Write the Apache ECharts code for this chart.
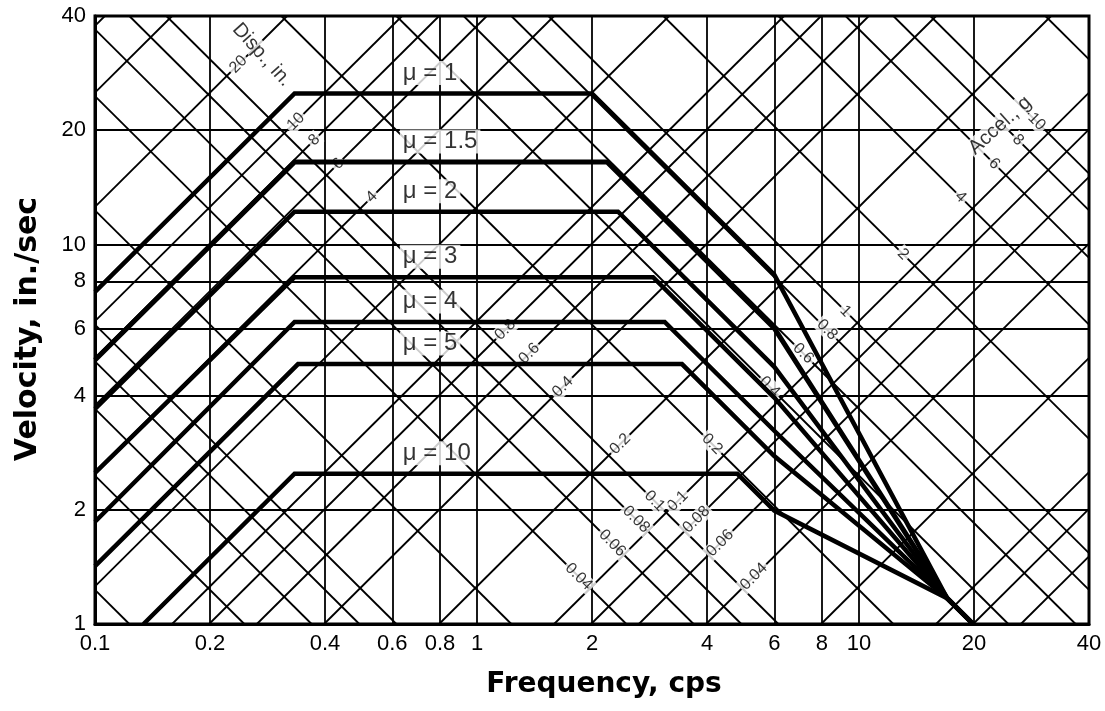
<!DOCTYPE html>
<html>
<head>
<meta charset="utf-8">
<script src="https://cdn.jsdelivr.net/npm/echarts@6/dist/echarts.min.js"></script>
<style>
html,body{margin:0;padding:0;background:#fff;}
#chart{width:1105px;height:711px;}
</style>
</head>
<body>
<div id="chart"></div>
<script>
// ---- tick labels ----
const xTickValues = [0.1, 0.2, 0.4, 0.6, 0.8, 1, 2, 4, 6, 8, 10, 20, 40];
const yTickValues = [1, 2, 4, 6, 8, 10, 20, 40];

// ---- tripartite grid lines (displacement in inches, acceleration in g) ----
const dispLineValues = [0.004, 0.006, 0.008, 0.01, 0.02, 0.04, 0.06, 0.08, 0.1, 0.2, 0.4, 0.6, 0.8, 1, 2, 4, 6, 8, 10, 20, 40, 60];
const accelLineValues = [0.002, 0.004, 0.006, 0.008, 0.01, 0.02, 0.04, 0.06, 0.08, 0.1, 0.2, 0.4, 0.6, 0.8, 1, 2, 4, 6, 8, 10, 20];
const dispLabelValues = [20, 10, 8, 6, 4, 0.8, 0.6, 0.4, 0.2, 0.1, 0.08, 0.06, 0.04];
const accelLabelValues = [10, 8, 6, 4, 2, 1, 0.8, 0.6, 0.4, 0.2, 0.1, 0.08, 0.06, 0.04];

// ---- design spectra: [frequency cps, velocity in./sec] ----
const muNames = ['μ = 1', 'μ = 1.5', 'μ = 2', 'μ = 3', 'μ = 4', 'μ = 5', 'μ = 10'];
const spectrumMu1   = [[0.1, 7.5],  [0.333, 25],   [2.0, 25],   [6, 8.33], [17, 1.17], [19.9, 1]];
const spectrumMu1_5 = [[0.1, 4.96], [0.333, 16.5], [2.19, 16.5], [6, 6.02], [17, 1.17], [19.9, 1]];
const spectrumMu2   = [[0.1, 3.69], [0.333, 12.2], [2.34, 12.2], [6, 4.76], [17, 1.17], [19.9, 1]];
const spectrumMu3   = [[0.1, 2.5],  [0.333, 8.2],  [2.89, 8.2],  [6, 3.95], [17, 1.17], [19.9, 1]];
const spectrumMu4   = [[0.1, 1.86], [0.333, 6.25], [3.1, 6.25],  [6, 3.23], [17, 1.17], [19.9, 1]];
const spectrumMu5   = [[0.1, 1.42], [0.34, 4.84],  [3.44, 4.84], [6, 2.77], [17, 1.17], [19.9, 1]];
const spectrumMu10  = [[0.134, 1],  [0.333, 2.49], [4.8, 2.49],  [6, 1.99], [17, 1.17], [19.9, 1]];
const spectra = [spectrumMu1, spectrumMu1_5, spectrumMu2, spectrumMu3, spectrumMu4, spectrumMu5, spectrumMu10];

// ---- constants of the tripartite construction and label placement ----
const G = 386.4;            // in./sec^2 per g
const X_MIN = 0.1, X_MAX = 40, Y_MIN = 1, Y_MAX = 40;
const DISP_LABEL_ALONG_ACCEL = 0.115;   // displacement numbers sit along this accel line
const ACCEL_LABEL_ALONG_DISP = 0.115;   // accel numbers sit along this disp line
const MU_LABEL_FREQ = 0.63;
const DISP_TITLE_AT = [0.2735, 31.6];
const ACCEL_TITLE_AT = [23.4, 20.6];

const FONT = "'Liberation Sans', 'DejaVu Sans', sans-serif";
const THIN = 1.8;
const series = [];

// displacement lines: V = 2*pi*f*D
dispLineValues.forEach(function (d) {
  const k = 2 * Math.PI * d;
  const f1 = Math.max(X_MIN, Y_MIN / k), f2 = Math.min(X_MAX, Y_MAX / k);
  if (f1 >= f2) return;
  series.push({
    type: 'line', silent: true, z: 2, showSymbol: false, symbol: 'none',
    lineStyle: { color: '#000', width: THIN },
    data: [[f1, k * f1], [f2, k * f2]]
  });
});
// acceleration lines: V = A*g/(2*pi*f)
accelLineValues.forEach(function (a) {
  const c = a * G / (2 * Math.PI);
  const f1 = Math.max(X_MIN, c / Y_MAX), f2 = Math.min(X_MAX, c / Y_MIN);
  if (f1 >= f2) return;
  series.push({
    type: 'line', silent: true, z: 2, showSymbol: false, symbol: 'none',
    lineStyle: { color: '#000', width: THIN },
    data: [[f1, c / f1], [f2, c / f2]]
  });
});

function fmt(v) { return String(+v.toPrecision(3)); }

// displacement numbers
series.push({
  type: 'scatter', z: 4, silent: true, symbolSize: 1,
  itemStyle: { color: 'rgba(0,0,0,0)' },
  data: dispLabelValues.map(function (d) {
    const v = Math.sqrt(DISP_LABEL_ALONG_ACCEL * G * d);
    const f = v / (2 * Math.PI * d);
    return { value: [f, v], name: fmt(d) };
  }),
  label: {
    show: true, position: 'inside', formatter: '{b}', rotate: 45,
    fontFamily: FONT, fontSize: 16, color: '#000',
    backgroundColor: '#fff', padding: [0, 2]
  }
});
// acceleration numbers
series.push({
  type: 'scatter', z: 4, silent: true, symbolSize: 1,
  itemStyle: { color: 'rgba(0,0,0,0)' },
  data: accelLabelValues.map(function (a) {
    const v = Math.sqrt(a * G * ACCEL_LABEL_ALONG_DISP);
    const f = v / (2 * Math.PI * ACCEL_LABEL_ALONG_DISP);
    return { value: [f, v], name: fmt(a) };
  }),
  label: {
    show: true, position: 'inside', formatter: '{b}', rotate: -45,
    fontFamily: FONT, fontSize: 16, color: '#000',
    backgroundColor: '#fff', padding: [0, 2]
  }
});
// family titles
series.push({
  type: 'scatter', z: 4, silent: true, symbolSize: 1,
  itemStyle: { color: 'rgba(0,0,0,0)' },
  data: [
    { value: DISP_TITLE_AT, name: 'Disp., in.', label: { rotate: -48 } },
    { value: ACCEL_TITLE_AT, name: 'Accel., g', label: { rotate: 42 } }
  ],
  label: {
    show: true, position: 'inside', formatter: '{b}',
    fontFamily: FONT, fontSize: 20, color: '#000',
    backgroundColor: '#fff', padding: [0, 2]
  }
});

// spectra
spectra.forEach(function (s, i) {
  series.push({
    type: 'line', name: muNames[i], z: 5, silent: true, showSymbol: false, symbol: 'none',
    lineStyle: { color: '#000', width: i === 1 ? 5 : 4.5, join: 'miter' },
    data: s
  });
});
// mu labels
series.push({
  type: 'scatter', z: 6, silent: true, symbolSize: 1,
  itemStyle: { color: 'rgba(0,0,0,0)' },
  data: spectra.map(function (s, i) {
    return { value: [MU_LABEL_FREQ, s[2][1]], name: muNames[i] };
  }),
  label: {
    show: true, position: [0, 0], align: 'left', verticalAlign: 'middle',
    offset: [0, -20], formatter: '{b}',
    fontFamily: FONT, fontSize: 24, color: '#000',
    backgroundColor: '#fff', padding: [0, 3]
  }
});

const chart = echarts.init(document.getElementById('chart'), null, { renderer: 'canvas' });
chart.setOption({
  animation: false,
  backgroundColor: '#fff',
  grid: { left: 95, top: 16, width: 994, height: 608, show: true, borderColor: '#000', borderWidth: 3, backgroundColor: 'transparent' },
  xAxis: {
    type: 'log', logBase: 10, min: X_MIN, max: X_MAX,
    name: 'Frequency, cps', nameLocation: 'middle', nameGap: 47,
    nameTextStyle: { fontFamily: "'DejaVu Sans', sans-serif", fontWeight: 'bold', fontSize: 28, color: '#000', padding: [0, 0, 0, 24] },
    axisLine: { show: true, lineStyle: { color: '#000', width: 3 } },
    axisTick: { show: false, customValues: xTickValues },
    axisLabel: { customValues: xTickValues, formatter: function (v) { return fmt(v); }, margin: 9, fontFamily: FONT, fontSize: 22, color: '#000' },
    splitLine: { show: true, lineStyle: { color: '#000', width: THIN } },
    minorSplitLine: { show: false }
  },
  yAxis: {
    type: 'log', logBase: 10, min: Y_MIN, max: Y_MAX,
    name: 'Velocity, in./sec', nameLocation: 'middle', nameGap: 52, nameRotate: 90,
    nameTextStyle: { fontFamily: "'DejaVu Sans', sans-serif", fontWeight: 'bold', fontSize: 30, color: '#000', padding: [0, 18, 0, 0] },
    axisLine: { show: true, lineStyle: { color: '#000', width: 3 } },
    axisTick: { show: false, customValues: yTickValues },
    axisLabel: { customValues: yTickValues, formatter: function (v) { return fmt(v); }, margin: 9, fontFamily: FONT, fontSize: 22, color: '#000' },
    splitLine: { show: true, lineStyle: { color: '#000', width: THIN } },
    minorSplitLine: { show: false }
  },
  series: series
});
</script>
</body>
</html>
